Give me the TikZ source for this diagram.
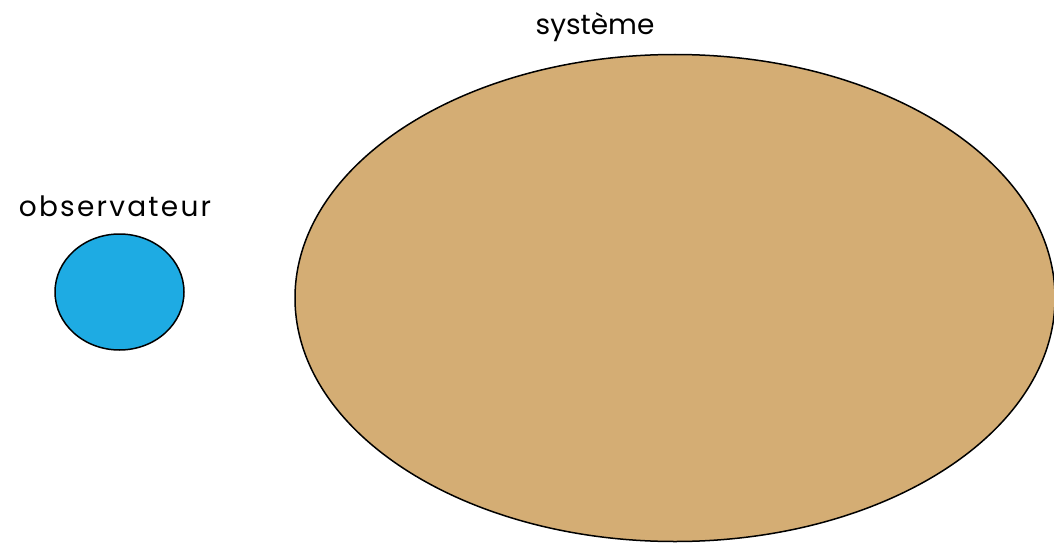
\documentclass[tikz,border=0pt]{standalone}
\usepackage{fontspec}
\setmainfont{Poppins}
\usetikzlibrary{shapes.geometric}
\definecolor{obsblue}{RGB}{30,171,227}
\definecolor{systan}{RGB}{212,173,116}
\begin{document}
\begin{tikzpicture}[x=1pt,y=-1pt,
  blob/.style={draw=black,line width=1.5pt},
  lbl/.style={font=\fontsize{28}{32}\selectfont,anchor=base,inner sep=0pt}]
\useasboundingbox (0,0) rectangle (1054,543);
\begin{scope}
\clip (0,0) rectangle (1054,543);
\fill[systan] (675,298) ellipse [x radius=380, y radius=243.5];
\draw[blob] (675,298) ellipse [x radius=380, y radius=243.5];
\end{scope}
\node[blob,fill=obsblue,ellipse,minimum width=129,minimum height=116,inner sep=0pt] (obs) at (119.5,292) {};
\coordinate (sysc) at (675,298);
\node[lbl] (systxt) at (595,35) {système};
\node[lbl] (obstxt) at (115,216) {\addfontfeatures{LetterSpace=8}observateur};
\end{tikzpicture}
\end{document}
